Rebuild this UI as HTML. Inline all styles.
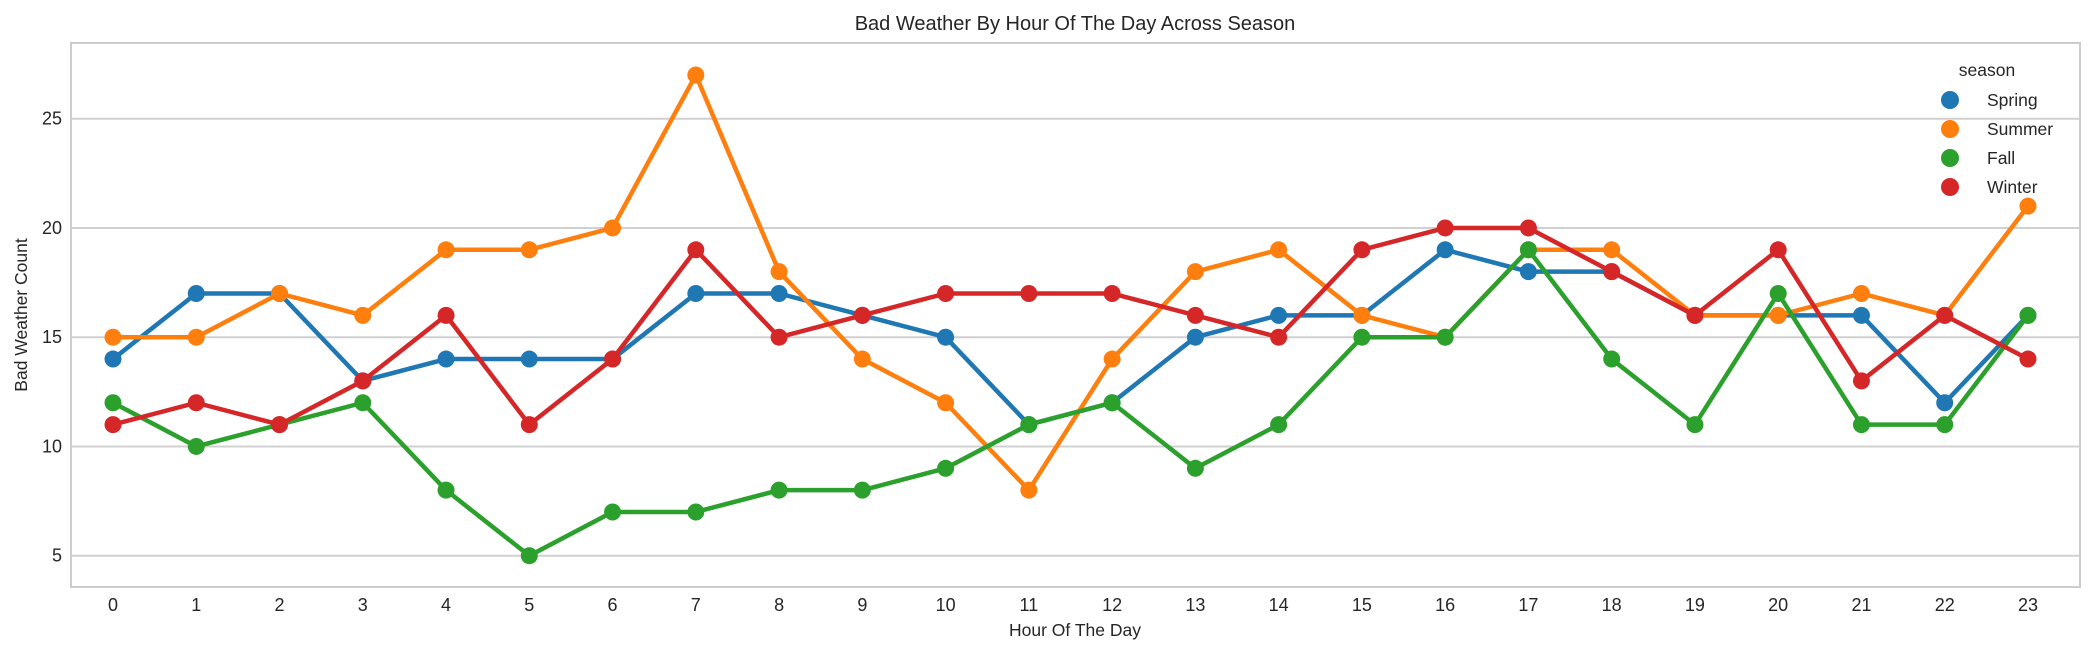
<!DOCTYPE html>
<html><head><meta charset="utf-8"><style>
body{margin:0;background:#fff}
text{font-family:"Liberation Sans",Arial,sans-serif;fill:#262626}
</style></head><body>
<svg id="chart" width="2093" height="655" xmlns="http://www.w3.org/2000/svg">
<rect width="2093" height="655" fill="#fff"/>
<text x="1075" y="30" font-size="20" text-anchor="middle">Bad Weather By Hour Of The Day Across Season</text>
<g id="grid"></g>
<rect x="71" y="43" width="2009" height="544" fill="none" stroke="#cccccc" stroke-width="2"/>
<g id="ticks"></g>
<g id="series"></g>
<text x="1075" y="636" font-size="17.5" text-anchor="middle">Hour Of The Day</text>
<text transform="translate(27,315) rotate(-90)" font-size="17.5" text-anchor="middle">Bad Weather Count</text>
<g id="legend"></g>
</svg>
<script>
const hours=[0,1,2,3,4,5,6,7,8,9,10,11,12,13,14,15,16,17,18,19,20,21,22,23];
const seasons=["Spring","Summer","Fall","Winter"];
const colors=["#1f77b4","#ff7f0e","#2ca02c","#d62728"];
const spring=[14,17,17,13,14,14,14,17,17,16,15,11,12,15,16,16,19,18,18,16,16,16,12,16];
const summer=[15,15,17,16,19,19,20,27,18,14,12,8,14,18,19,16,15,19,19,16,16,17,16,21];
const fall=[12,10,11,12,8,5,7,7,8,8,9,11,12,9,11,15,15,19,14,11,17,11,11,16];
const winter=[11,12,11,13,16,11,14,19,15,16,17,17,17,16,15,19,20,20,18,16,19,13,16,14];
const yTicks=[5,10,15,20,25];
const NS="http://www.w3.org/2000/svg";
const xs=i=>113+i*83.26;
const ys=v=>555.7-(v-5)*21.85;
function mk(tag,attrs,parent){const e=document.createElementNS(NS,tag);for(const k in attrs)e.setAttribute(k,attrs[k]);parent.appendChild(e);return e;}
const grid=document.getElementById('grid'),ticks=document.getElementById('ticks'),ser=document.getElementById('series'),leg=document.getElementById('legend');
yTicks.forEach(v=>{
 const l=mk('line',{x1:71,x2:2080,y1:ys(v),y2:ys(v),stroke:'#d0d0d0','stroke-width':2},grid);
 
 
 const t=mk('text',{x:62,y:ys(v)+6,'font-size':18,'text-anchor':'end'},ticks);
 t.textContent=v;
 
 
});
hours.forEach((h,i)=>{
 const t=mk('text',{x:xs(i),y:611,'font-size':18,'text-anchor':'middle'},ticks);
 t.textContent=h;
 
 
});
[spring,summer,fall,winter].forEach((d,s)=>{
 const g=mk('g',{},ser);
 
 
 const p=mk('polyline',{points:d.map((v,i)=>xs(i)+','+ys(v)).join(' '),fill:'none',stroke:colors[s],'stroke-width':4.5,'stroke-linejoin':'round'},g);
 
 
 d.forEach((v,i)=>{
  const c=mk('circle',{cx:xs(i),cy:ys(v),r:8.5,fill:colors[s]},g);
  
  
 });
});
const lt=mk('text',{x:1987,y:76,'font-size':17.5,'text-anchor':'middle'},leg);
lt.textContent='season';


seasons.forEach((s,i)=>{
 const y=100+i*29;
 const c=mk('circle',{cx:1950,cy:y,r:9,fill:colors[i]},leg);
 
 
 const t=mk('text',{x:1987,y:y+6,'font-size':17.5},leg);
 t.textContent=s;
 
 
});
</script>
</body></html>
